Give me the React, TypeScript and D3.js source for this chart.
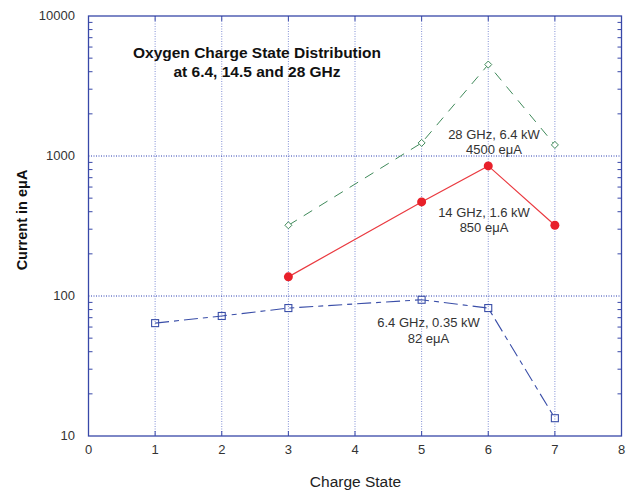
import React from "react";
import * as d3 from "d3";

const chargeStates6 = [1, 2, 3, 5, 6, 7];
const current6 = [64, 72, 82, 94, 82, 13.4];
const chargeStates14 = [3, 5, 6, 7];
const current14 = [137, 470, 850, 320];
const chargeStates28 = [3, 5, 6, 7];
const current28 = [320, 1240, 4500, 1200];
const xTicks = [0, 1, 2, 3, 4, 5, 6, 7, 8];
const yTicks = [10, 100, 1000, 10000];
const titleLines = ["Oxygen Charge State Distribution", "at 6.4, 14.5 and 28 GHz"];

const W = 629, H = 492;
const L = 88.5, R = 621.5, T = 16, B = 436;
const axisColor = "#3848a8";
const font = "Liberation Sans, Arial, Helvetica, sans-serif";

export default function App() {
  const x = d3.scaleLinear().domain([0, 8]).range([L, R]);
  const y = d3.scaleLog().domain([10, 10000]).range([B, T]);

  const minor: number[] = [];
  for (let d = 10; d < 10000; d *= 10) for (let k = 2; k <= 9; k++) minor.push(d * k);

  const mk = (xs: number[], ys: number[]) =>
    d3.line<number>().x((_, i) => x(xs[i])).y((v) => y(v))(ys) || "";

  const blue = "#3a4ea8";
  const red = "#e8202a";
  const green = "#3f8a5a";

  return (
    <div style={{ position: "absolute", left: 0, top: 0 }}>
      <svg width={W} height={H} style={{ display: "block", background: "#fff" }} fontFamily={font}>
        {/* grid */}
        {xTicks.filter((t) => t > 0 && t < 8).map((t) => (
          <line key={"gx" + t} x1={x(t)} x2={x(t)} y1={T} y2={B} stroke="#5a6cc8" strokeWidth={1} strokeDasharray="1,1.5" opacity={0.75} />
        ))}
        {[100, 1000].map((t) => (
          <line key={"gy" + t} x1={L} x2={R} y1={y(t)} y2={y(t)} stroke="#2a3cb0" strokeWidth={1} strokeDasharray="1,1.5" />
        ))}
        {/* minor ticks */}
        {minor.map((m) => (
          <g key={"m" + m}>
            <line x1={L} x2={L + 4} y1={y(m)} y2={y(m)} stroke={axisColor} />
            <line x1={R} x2={R - 4} y1={y(m)} y2={y(m)} stroke={axisColor} />
          </g>
        ))}
        {xTicks.map((t) => (
          <g key={"xt" + t}>
            <line x1={x(t)} x2={x(t)} y1={B} y2={B - 5} stroke={axisColor} />
            <line x1={x(t)} x2={x(t)} y1={T} y2={T + 5} stroke={axisColor} />
          </g>
        ))}
        {/* frame */}
        <rect x={L} y={T} width={R - L} height={B - T} fill="none" stroke={axisColor} strokeWidth={1.3} />
        {/* tick labels */}
        {xTicks.map((t) => (
          <text key={"xl" + t} x={x(t)} y={B + 18} textAnchor="middle" fontSize={13} fill="#333">{t}</text>
        ))}
        {yTicks.map((t) => (
          <text key={"yl" + t} x={75} y={y(t) + 4} textAnchor="end" fontSize={13} fill="#333">{t}</text>
        ))}
        {/* axis titles */}
        <text x={355.5} y={487} textAnchor="middle" fontSize={15.5} fill="#222">Charge State</text>
        <text transform={`translate(27,220) rotate(-90)`} textAnchor="middle" fontSize={14.5} fontWeight="bold" fill="#111">Current in eμA</text>
        {/* title */}
        {titleLines.map((s, i) => (
          <text key={"t" + i} x={257} y={58 + i * 18.5} textAnchor="middle" fontSize={15.5} fontWeight="bold" fill="#111">{s}</text>
        ))}
        {/* series lines */}
        <path d={mk(chargeStates28, current28)} fill="none" stroke={green} strokeWidth={1} strokeDasharray="10,8" />
        <path d={mk(chargeStates14, current14)} fill="none" stroke="#ea3a40" strokeWidth={1.2} />
        <path d={mk(chargeStates6, current6)} fill="none" stroke={blue} strokeWidth={1.1} strokeDasharray="14,5,5,5" />
        {/* markers */}
        {current28.map((v, i) => {
          const cx = x(chargeStates28[i]), cy = y(v);
          return <path key={"d" + i} d={`M${cx},${cy - 3.5}L${cx + 3.5},${cy}L${cx},${cy + 3.5}L${cx - 3.5},${cy}Z`} fill="#fff" stroke={green} strokeWidth={1} />;
        })}
        {current14.map((v, i) => (
          <circle key={"c" + i} cx={x(chargeStates14[i])} cy={y(v)} r={4.5} fill={red} />
        ))}
        {current6.map((v, i) => (
          <rect key={"s" + i} x={x(chargeStates6[i]) - 3.5} y={y(v) - 3.5} width={7} height={7} fill="#fff" fillOpacity={0} stroke={blue} strokeWidth={1.1} />
        ))}
        {/* annotations */}
        <text x={494} y={139} textAnchor="middle" fontSize={13} fill="#333">28 GHz, 6.4 kW</text>
        <text x={494} y={154} textAnchor="middle" fontSize={13} fill="#333">4500 eμA</text>
        <text x={484} y={217} textAnchor="middle" fontSize={13} fill="#333">14 GHz, 1.6 kW</text>
        <text x={484} y={232} textAnchor="middle" fontSize={13} fill="#333">850 eμA</text>
        <text x={428.5} y={327} textAnchor="middle" fontSize={13} fill="#333">6.4 GHz, 0.35 kW</text>
        <text x={428.5} y={343} textAnchor="middle" fontSize={13} fill="#333">82 eμA</text>
      </svg>
    </div>
  );
}
